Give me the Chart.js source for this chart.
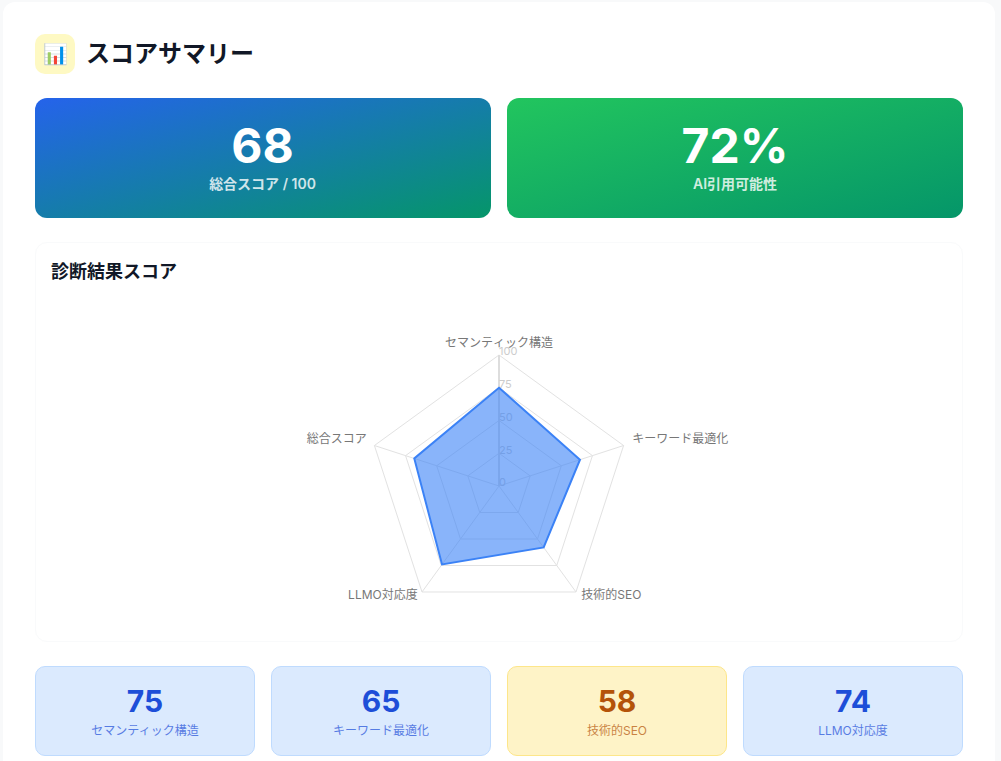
<!DOCTYPE html>
<html lang="ja">
<head>
<meta charset="utf-8">
<title>スコアサマリー</title>
<script src="https://cdn.jsdelivr.net/npm/chart.js@4"></script>
<style>
  * { box-sizing: border-box; margin: 0; padding: 0; }
  html, body { width: 1001px; height: 761px; overflow: hidden; background: #f8f9fa; }
  body { font-family: Inter, "Noto Sans CJK JP", sans-serif; color: #111827; }
  .page { position: absolute; left: 3px; top: 2px; width: 992px; height: 800px; background: #fff; border-radius: 12px; padding: 32px; }
  .head { display: flex; align-items: center; height: 40px; gap: 11px; }
  .icon { width: 40px; height: 40px; background: #fef9c3; border-radius: 10px; display: flex; align-items: center; justify-content: center; font-size: 20px; }
  h1 { font-size: 24px; font-weight: 700; line-height: 40px; }
  .hero { display: grid; grid-template-columns: 456px 456px; gap: 16px; margin-top: 24px; }
  .hero div.box { height: 120px; border-radius: 12px; color: #fff; text-align: center; padding-top: 24px; }
  .hero .blue { background: linear-gradient(to bottom right, #2563eb, #059669); padding-right: 1px; }
  .hero .green { background: linear-gradient(to bottom right, #22c55e, #059669); }
  .hero .num { font-size: 48px; font-weight: 700; line-height: 48px; }
  .hero .lab { font-size: 14px; font-weight: 600; line-height: 20px; margin-top: 4px; opacity: .8; }
  .panel { margin-top: 24px; height: 400px; border: 1px solid #f9fafb; border-radius: 12px; padding: 16px 15px; }
  h2 { font-size: 18px; font-weight: 700; line-height: 26px; }
  .wrap { position: absolute; left: 33px; top: 304px; width: 926px; height: 320px; }
  .cards { display: grid; grid-template-columns: repeat(4, 220px); gap: 16px; margin-top: 24px; }
  .card { height: 90px; border-radius: 10px; text-align: center; border: 1px solid #bfdbfe; background: #dbeafe; color: #1d4ed8; padding-top: 16px; }
  .card.warn { border-color: #fde68a; background: #fef3c7; color: #b45309; }
  .card .num { font-size: 30px; font-weight: 700; line-height: 36px; }
  .card .lab { font-size: 12px; line-height: 16px; margin-top: 4px; opacity: .7; }
</style>
</head>
<body>
<div class="page">
  <div class="head"><div class="icon">📊</div><h1>スコアサマリー</h1></div>
  <div class="hero">
    <div class="box blue"><div class="num" id="total"></div><div class="lab" id="totalLabel"></div></div>
    <div class="box green"><div class="num" id="ai"></div><div class="lab" id="aiLabel"></div></div>
  </div>
  <div class="panel"><h2>診断結果スコア</h2></div>
  <div class="wrap"><canvas id="radar"></canvas></div>
  <div class="cards" id="cards"></div>
</div>
<script>
const categories = ['セマンティック構造', 'キーワード最適化', '技術的SEO', 'LLMO対応度', '総合スコア'];
const scores = [75, 65, 58, 74, 68];
const tickValues = [0, 25, 50, 75, 100];
const warnCards = ['技術的SEO'];

document.getElementById('total').textContent = scores[4];
document.getElementById('totalLabel').textContent = categories[4] + ' / ' + tickValues[4];
document.getElementById('ai').textContent = '72%';
document.getElementById('aiLabel').textContent = 'AI引用可能性';

document.getElementById('cards').innerHTML = categories.slice(0, 4).map((name, i) => {
  const cls = warnCards.includes(name) ? 'card warn' : 'card';
  return `<div class="${cls}"><div class="num">${scores[i]}</div><div class="lab">${name}</div></div>`;
}).join('');

const fontFamily = 'Inter, "Noto Sans CJK JP", sans-serif';

// opaque canvas so the text gets the same antialiasing as the page text
const canvas = document.getElementById('radar');
canvas.getContext('2d', { alpha: false });

// axis labels and ticks sit differently from Chart.js defaults, so place them from the scale
const radarText = {
  id: 'radarText',
  beforeDraw(chart) {
    chart.ctx.save();
    chart.ctx.fillStyle = '#ffffff';
    chart.ctx.fillRect(0, 0, chart.width, chart.height);
    chart.ctx.restore();
  },
  beforeDatasetsDraw(chart) {
    const scale = chart.scales.r;
    const ctx = chart.ctx;
    ctx.save();

    // radius axis runs under the fill
    const top = scale.getPointPosition(0, scale.drawingArea);
    ctx.strokeStyle = '#dddddd';
    ctx.lineWidth = 2;
    ctx.beginPath();
    ctx.moveTo(scale.xCenter, scale.yCenter);
    ctx.lineTo(top.x, top.y);
    ctx.stroke();

    ctx.font = `11px ${fontFamily}`;
    ctx.fillStyle = '#cccccc';
    ctx.textAlign = 'left';
    ctx.textBaseline = 'middle';
    scale.ticks.forEach((tick) => {
      const dist = scale.getDistanceFromCenterForValue(tick.value);
      const pos = scale.getPointPosition(0, dist);
      ctx.fillText(tick.value, pos.x, pos.y - 3);
    });

    ctx.font = `12px ${fontFamily}`;
    ctx.fillStyle = '#777777';
    categories.forEach((name, i) => {
      const pos = scale.getPointPosition(i, scale.drawingArea + 9);
      const left = pos.x < scale.xCenter;
      ctx.textAlign = i === 0 ? 'center' : (left ? 'right' : 'left');
      const lower = pos.y > scale.yCenter;
      ctx.fillText(name, pos.x + (left ? 1 : 0), pos.y - (lower ? 4 : 3));
    });
    ctx.restore();
  }
};

new Chart(canvas, {
  type: 'radar',
  plugins: [radarText],
  data: {
    labels: categories,
    datasets: [{
      data: scores,
      borderColor: '#3b82f6',
      backgroundColor: 'rgba(59, 130, 246, 0.6)',
      borderWidth: 2,
      pointRadius: 0,
      fill: true
    }]
  },
  options: {
    responsive: true,
    maintainAspectRatio: false,
    animation: false,
    layout: { padding: { top: 49, bottom: 9 } },
    plugins: { legend: { display: false }, tooltip: { enabled: false } },
    scales: {
      r: {
        min: 0,
        max: 100,
        ticks: { display: false, stepSize: 25 },
        pointLabels: { display: false },
        grid: { color: '#e2e2e2' },
        angleLines: { color: '#e2e2e2' }
      }
    }
  }
});
</script>
</body>
</html>
